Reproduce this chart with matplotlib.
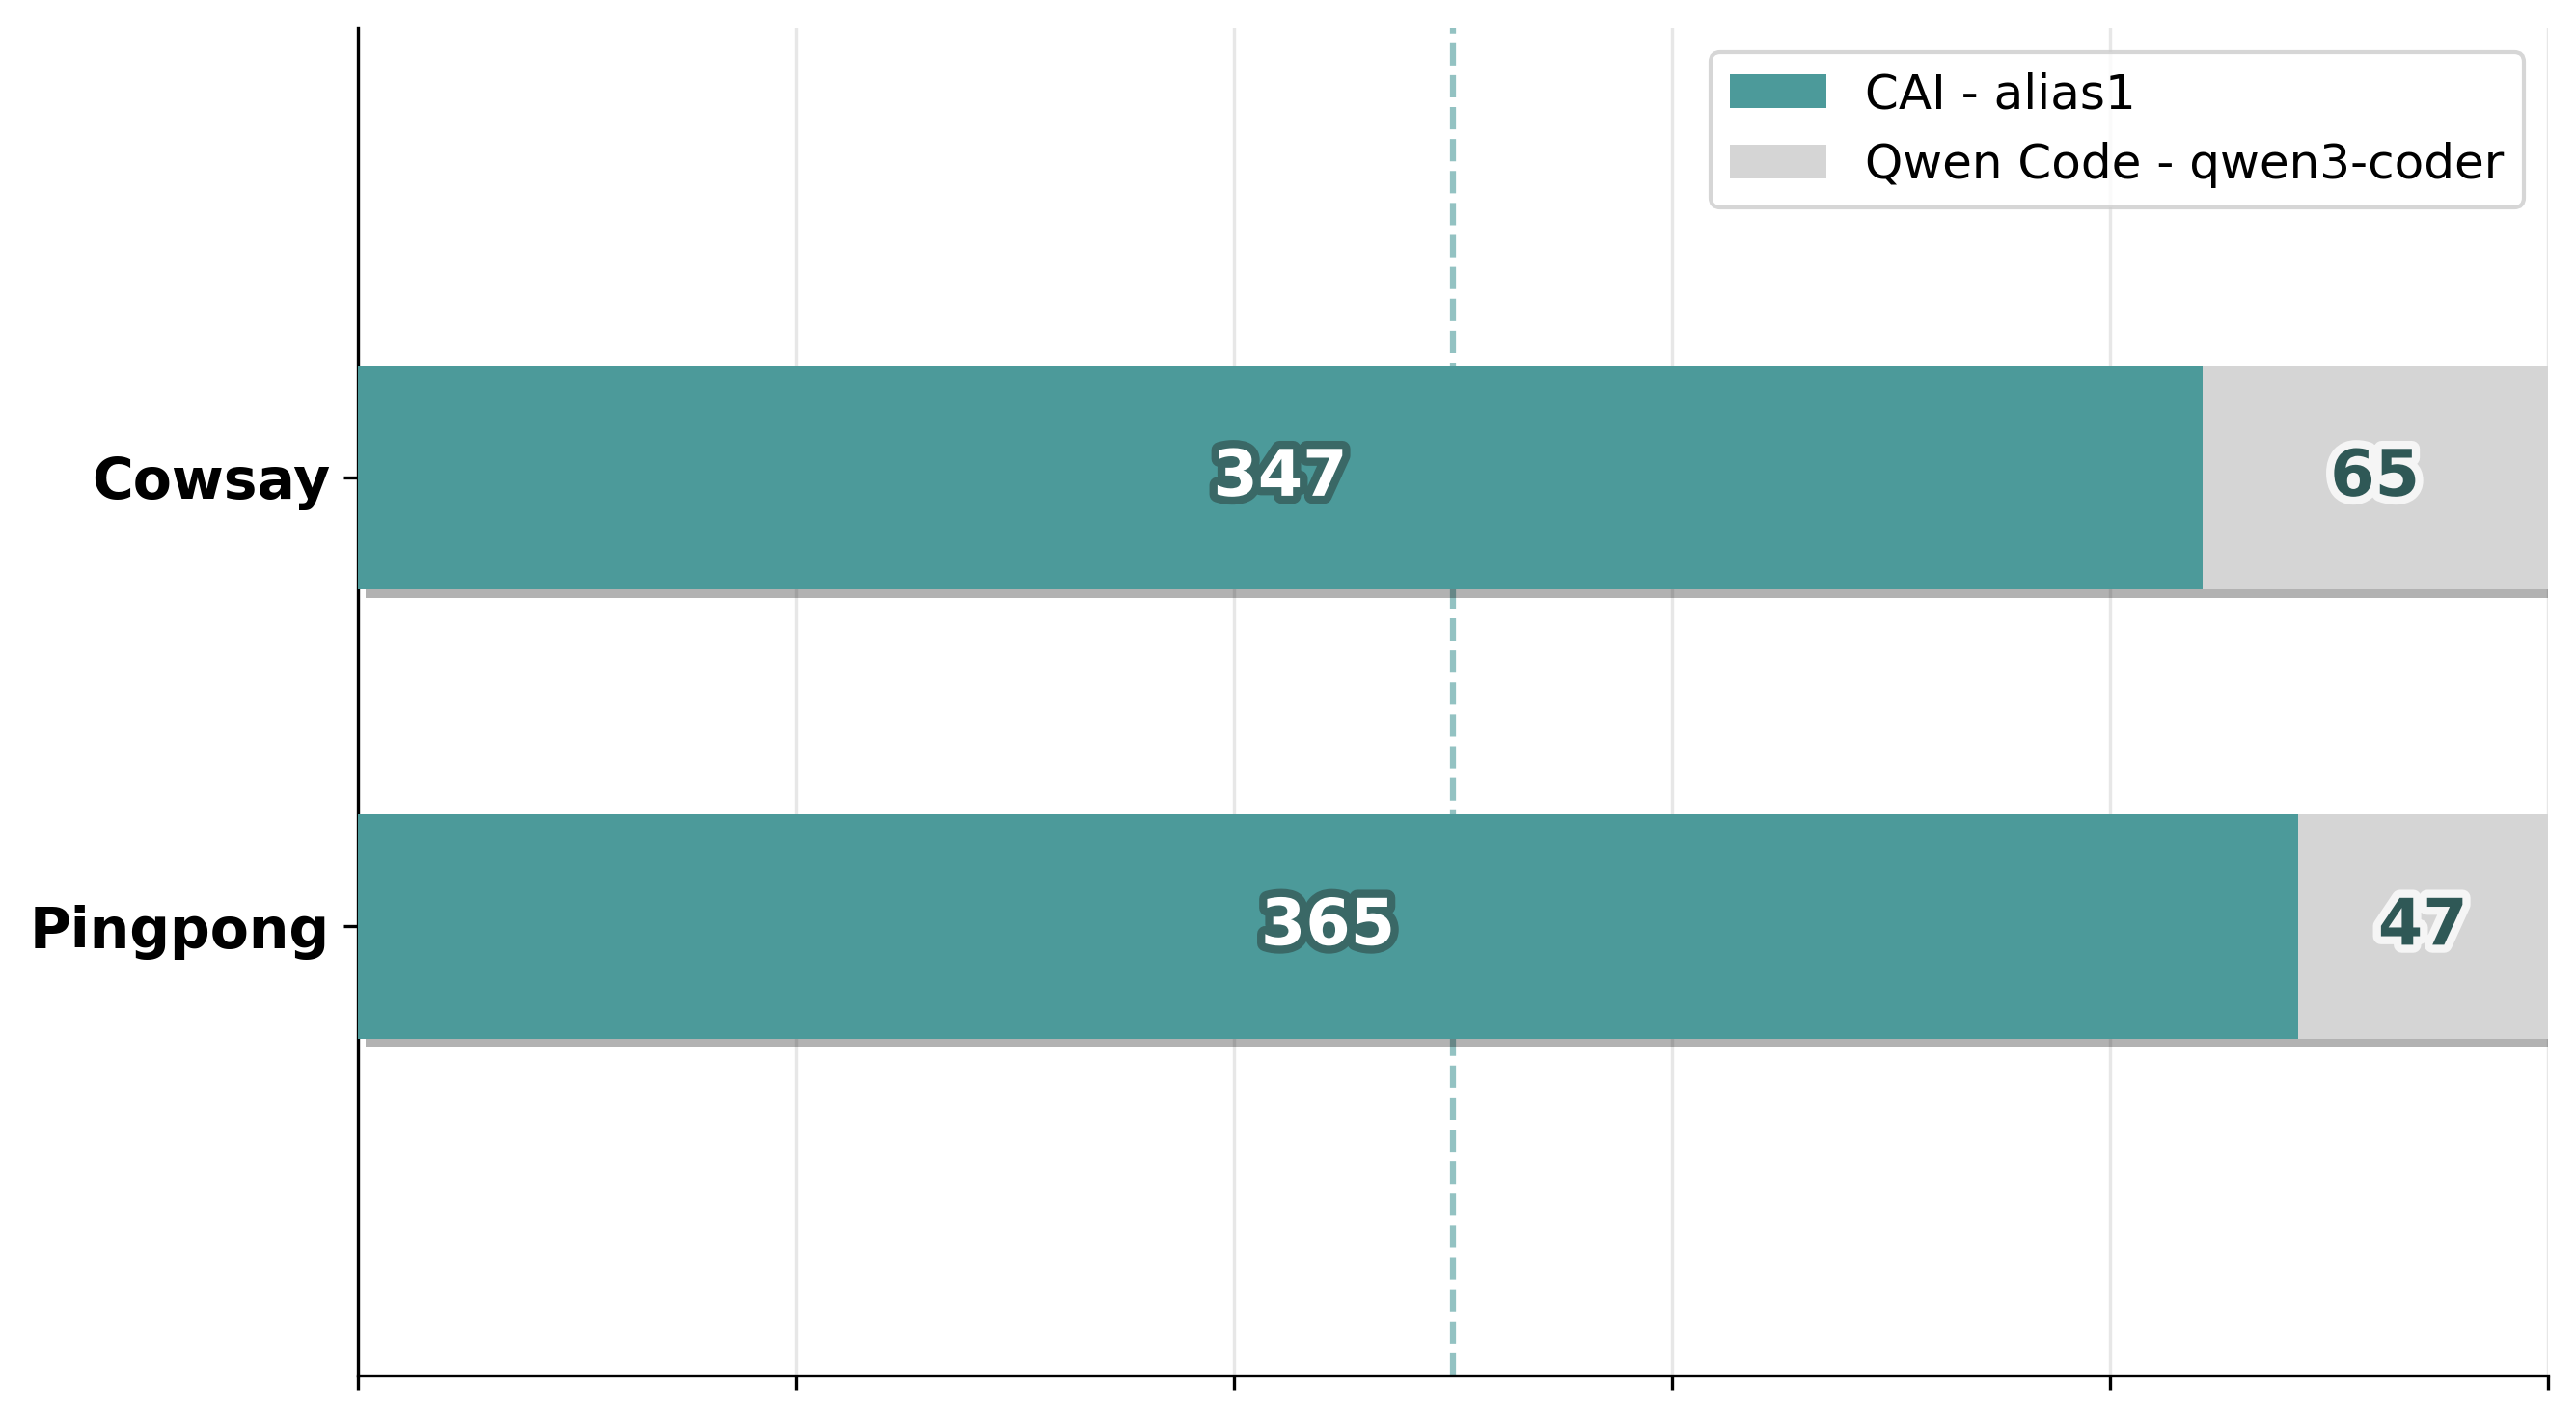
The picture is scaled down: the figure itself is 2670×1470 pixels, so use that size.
import matplotlib
matplotlib.use("Agg")
import matplotlib.pyplot as plt
import matplotlib.patheffects as pe
import numpy as np

categories = ["Cowsay", "Pingpong"]
cai_values = [347, 365]
qwen_values = [65, 47]
series_labels = ["CAI - alias1", "Qwen Code - qwen3-coder"]

teal = "#4C9A9A"
gray = "#D5D5D5"
dark = "#2F5856"

cai = np.array(cai_values, dtype=float)
qwen = np.array(qwen_values, dtype=float)
total = cai + qwen
cai_pct = cai / total * 100
qwen_pct = qwen / total * 100

fig = plt.figure(figsize=(8.9, 4.9), dpi=300)
ax = fig.add_axes([0.139, 0.030, 0.850, 0.950])

y = np.array([1, 0])  # Cowsay on top

b1 = ax.barh(y, cai_pct, height=0.5, color=teal, label=series_labels[0], zorder=3)
b2 = ax.barh(y, qwen_pct, left=cai_pct, height=0.5, color=gray, label=series_labels[1], zorder=3)

ax.axvline(50, color=teal, alpha=0.6, linestyle="--", linewidth=1.5, zorder=1)

for yi, cp, qp, cv, qv in zip(y, cai_pct, qwen_pct, cai_values, qwen_values):
    ax.text(cp / 2, yi, str(cv), ha="center", va="center", fontsize=16, fontweight="bold",
            color="white", zorder=5,
            path_effects=[pe.withStroke(linewidth=4, foreground="#3a6866")])
    ax.text(cp + qp / 2, yi, str(qv), ha="center", va="center", fontsize=16, fontweight="bold",
            color=dark, zorder=5,
            path_effects=[pe.withStroke(linewidth=4, foreground="#f5f5f5")])

ax.set_xlim(0, 100)
ax.set_ylim(-1, 2)
ax.set_xticks([0, 20, 40, 60, 80, 100])
ax.set_xticklabels([])
ax.set_yticks(y)
ax.set_yticklabels(categories, fontsize=14, fontweight="bold")

ax.xaxis.grid(True, color="#b0b0b0", alpha=0.3, linewidth=0.8, zorder=0)
ax.set_axisbelow(True)
for s in ["top", "right"]:
    ax.spines[s].set_visible(False)

ax.legend(loc="upper right", fontsize=12)

shadow = [pe.SimplePatchShadow(offset=(2, -2), shadow_rgbFace="black", alpha=0.3), pe.Normal()]
for bar in list(b1) + list(b2):
    bar.set_path_effects(shadow)

fig.savefig("out.png", dpi=300)
